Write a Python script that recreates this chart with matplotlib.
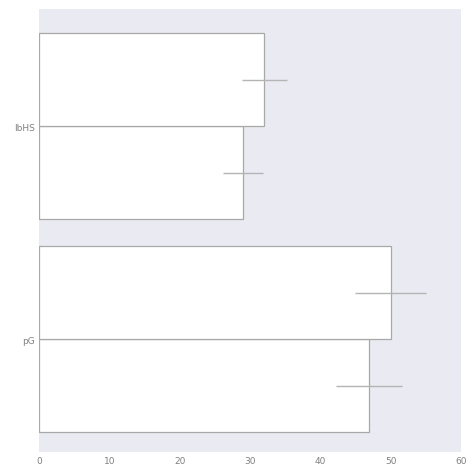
import numpy as np
import matplotlib
matplotlib.use("Agg")
import matplotlib.pyplot as plt

categories = ["pG", "IbHS"]
series_a = [46.9, 29.0]   # lower bar of each group
series_a_err = [4.7, 2.9]
series_b = [50.0, 32.0]   # upper bar of each group
series_b_err = [5.0, 3.2]

BAR_H = 0.4375

fig = plt.figure(figsize=(4.77, 4.77), dpi=100)
ax = fig.add_axes([39 / 477, 24 / 477, 422 / 477, 443 / 477])
ax.set_facecolor("#EAEAF2")

y = np.arange(len(categories))
edge = "#a8a8a8"
ax.barh(y - BAR_H / 2, series_a, height=BAR_H, color="white", edgecolor=edge,
        linewidth=0.9)
ax.barh(y + BAR_H / 2, series_b, height=BAR_H, color="white", edgecolor=edge,
        linewidth=0.9)
ax.errorbar(series_a, y - BAR_H / 2, xerr=series_a_err, fmt="none",
            ecolor="#b4b4b4", elinewidth=1.0, capsize=0)
ax.errorbar(series_b, y + BAR_H / 2, xerr=series_b_err, fmt="none",
            ecolor="#b4b4b4", elinewidth=1.0, capsize=0)

ax.set_xlim(0, 60)
ax.set_ylim(-0.53, 1.55)
ax.set_yticks(y)
ax.set_yticklabels(categories)
ax.set_xticks(np.arange(0, 61, 10))
ax.tick_params(axis="both", length=0, labelsize=6.5, labelcolor="#808080", pad=3)
for s in ax.spines.values():
    s.set_visible(False)

fig.savefig("out.png", dpi=100)
